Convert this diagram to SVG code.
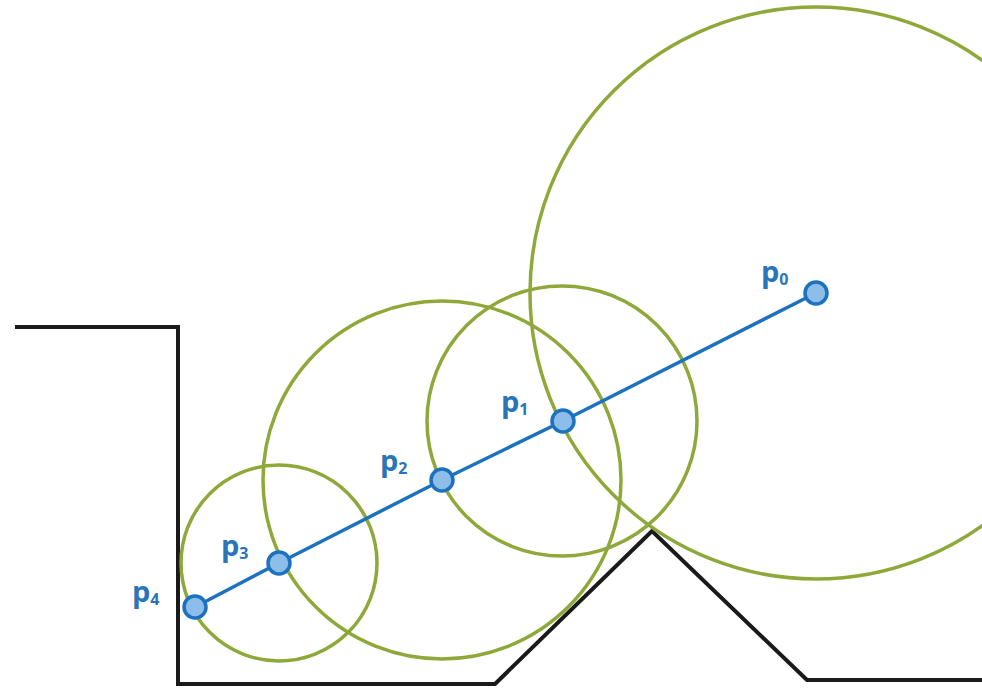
<svg xmlns="http://www.w3.org/2000/svg" width="982" height="693" viewBox="0 0 982 693">
<style>
.wall{fill:none;stroke:#1a1a1a;stroke-width:4;stroke-linejoin:miter}
.circ{fill:none;stroke:#8fa83a;stroke-width:3.5}
.path{fill:none;stroke:#1d72bf;stroke-width:3.5}
.pt{fill:#8dbde9;stroke:#1d72bf;stroke-width:3.5}
.lbl{font-family:"Open Sans","Liberation Sans",sans-serif;font-weight:bold;font-size:29px;fill:#2a74b8}
.sub{font-size:16px}
</style>
<rect width="982" height="693" fill="#ffffff"/>
<g id="walls">
<polyline class="wall" points="15,327 178,327 178,684 495,684 652,531 807,680 982,680"/>
</g>
<g id="circles">
<circle class="circ" cx="816" cy="293" r="286"/>
<circle class="circ" cx="562" cy="421" r="135"/>
<circle class="circ" cx="442" cy="480" r="179"/>
<circle class="circ" cx="279" cy="563" r="98"/>
</g>
<g id="connectors">
<polyline class="path" points="816,293 563,421 442,480 279,563 195,607"/>
</g>
<g id="p0"><circle class="pt" cx="816" cy="293" r="11"/><text class="lbl" x="761" y="282">p<tspan class="sub" dy="3">0</tspan></text></g>
<g id="p1"><circle class="pt" cx="563" cy="421" r="11"/><text class="lbl" x="501" y="412">p<tspan class="sub" dy="3">1</tspan></text></g>
<g id="p2"><circle class="pt" cx="442" cy="480" r="11"/><text class="lbl" x="380" y="471">p<tspan class="sub" dy="3">2</tspan></text></g>
<g id="p3"><circle class="pt" cx="279" cy="563" r="11"/><text class="lbl" x="221" y="556">p<tspan class="sub" dy="3">3</tspan></text></g>
<g id="p4"><circle class="pt" cx="195" cy="607" r="11"/><text class="lbl" x="132" y="602">p<tspan class="sub" dy="3">4</tspan></text></g>
</svg>
